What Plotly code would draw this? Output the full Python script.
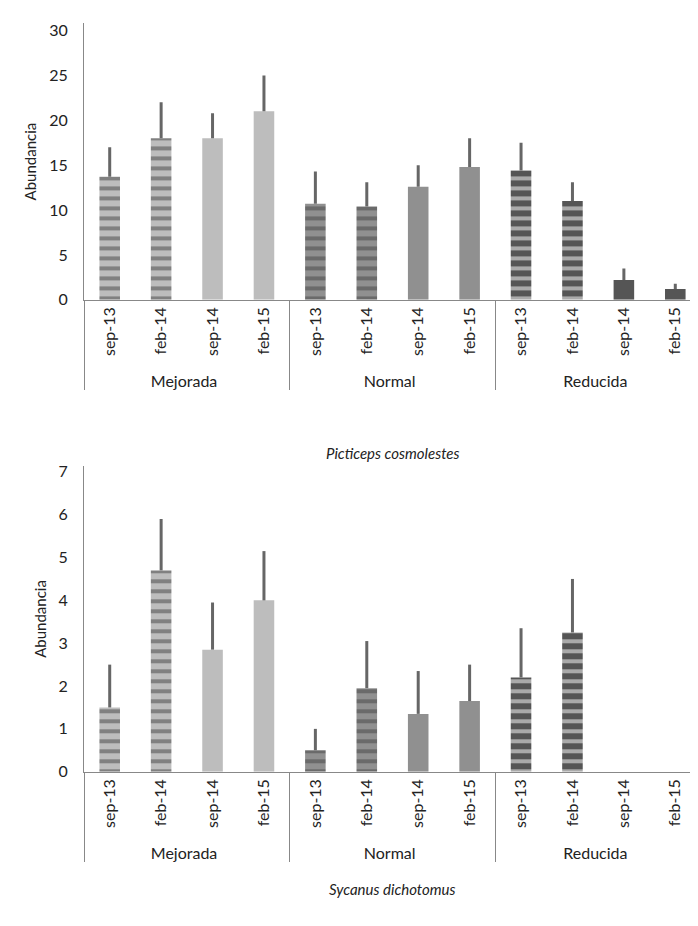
import plotly.graph_objects as go
from plotly.subplots import make_subplots

groups = ["Mejorada"]*4 + ["Normal"]*4 + ["Reducida"]*4
dates = ["sep-13", "feb-14", "sep-14", "feb-15"]*3
pc_vals = [13.7, 18.0, 18.0, 21.0, 10.7, 10.4, 12.6, 14.8, 14.4, 11.0, 2.2, 1.2]
pc_err = [3.3, 4.0, 2.8, 4.0, 3.6, 2.7, 2.4, 3.2, 3.1, 2.1, 1.3, 0.6]
sd_vals = [1.5, 4.7, 2.85, 4.0, 0.5, 1.95, 1.35, 1.65, 2.2, 3.25, 0, 0]
sd_err = [1.0, 1.2, 1.1, 1.15, 0.5, 1.1, 1.0, 0.85, 1.15, 1.25, 0, 0]
titles = ["Picticeps cosmolestes", "Sycanus dichotomus"]

base = {"Mejorada": "#bdbdbd", "Normal": "#909090", "Reducida": "#555555"}
stripe = {"Mejorada": "#6a6a6a", "Normal": "#6a6a6a", "Reducida": "#717171"}
colors = [base[g] for g in groups]
fg = [stripe[g] for g in groups]
shapes = ["-", "-", "", ""]*3

fig = make_subplots(rows=2, cols=1)
for i, (v, e) in enumerate([(pc_vals, pc_err), (sd_vals, sd_err)]):
    fig.add_trace(go.Bar(
        x=[groups, dates], y=v,
        marker=dict(color=colors, line=dict(width=0),
                    pattern=dict(shape=shapes, fgcolor=fg, size=10, solidity=0.4)),
        error_y=dict(type="data", array=e, symmetric=False, arrayminus=[0]*12,
                     color="#666666", thickness=3, width=0),
        width=0.4, showlegend=False), row=i+1, col=1)

ax = dict(showline=True, linecolor="#888888", linewidth=1, ticks="", showgrid=False,
          tickfont=dict(size=16, color="#222"), zeroline=False)
fig.update_xaxes(**ax, tickangle=-90, showdividers=True, dividercolor="#888888", dividerwidth=1)
fig.update_yaxes(**ax)
for r, rng, dt, dom in [(1, [0, 30.8], 5, [0.6876, 0.994]), (2, [0, 7.13], 1, [0.1644, 0.503])]:
    fig.update_yaxes(range=rng, dtick=dt, domain=dom, row=r, col=1, ticklabelstandoff=12,
                     title=dict(text="Abundancia", font=dict(size=15, color="#222"), standoff=8))

for t, yp in zip(titles, [447, 896]):
    fig.add_annotation(text=f"<i>{t}</i>", xref="paper", yref="paper", x=0.5,
                       y=(916 - yp) / 906, showarrow=False, font=dict(size=15, color="#222"))

fig.update_layout(width=698, height=926, margin=dict(l=76, r=5, t=10, b=10),
                  plot_bgcolor="white", paper_bgcolor="white",
                  font=dict(family="Lato", size=15, color="#222"), bargap=0.5)
fig.write_html("out.html")
